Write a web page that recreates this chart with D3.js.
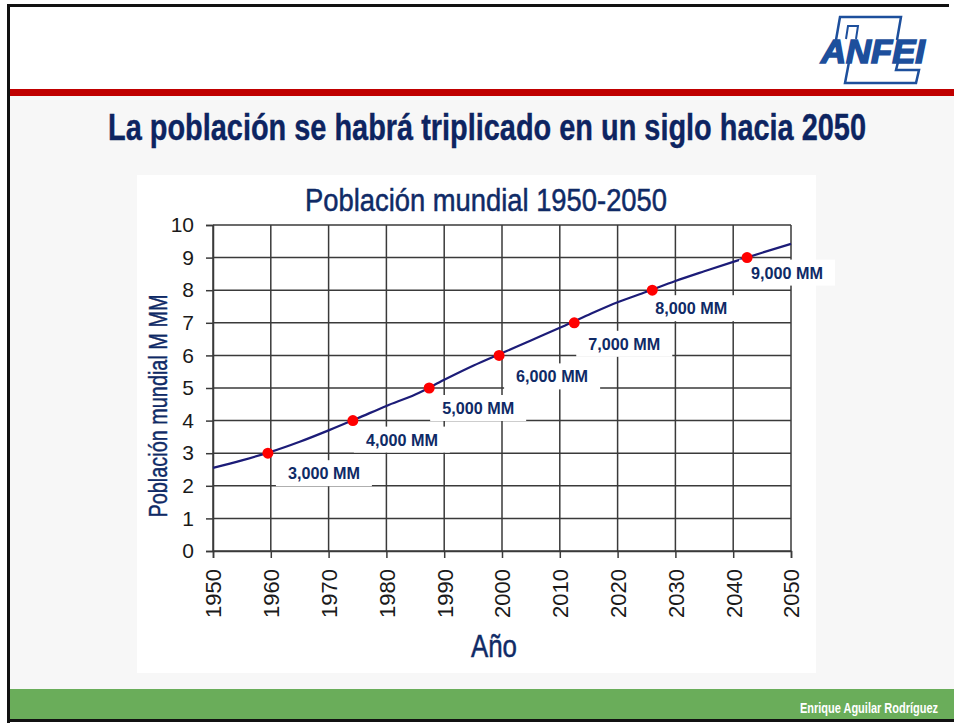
<!DOCTYPE html>
<html><head><meta charset="utf-8">
<script src="https://cdn.jsdelivr.net/npm/d3@7"></script>
<style>
html,body{margin:0;padding:0;background:#fff;}
svg{display:block;}
</style></head>
<body>
<svg id="c" width="954" height="723"></svg>
<script>
// ---- data ----
const years = [1950,1955,1960,1965,1970,1975,1980,1985,1990,1995,2000,2005,2010,2015,2020,2025,2030,2035,2040,2045,2050];
const population = [2.55,2.78,3.04,3.35,3.70,4.07,4.45,4.80,5.25,5.68,6.07,6.46,6.85,7.25,7.63,7.95,8.28,8.58,8.87,9.15,9.42];
const milestoneYears = [1959.5,1974.2,1987.4,1999.5,2012.5,2026.0,2042.4];
const milestoneValues = [3,4,5,6,7,8,9];
const milestoneLabels = ["3,000 MM","4,000 MM","5,000 MM","6,000 MM","7,000 MM","8,000 MM","9,000 MM"];
const xTicks = [1950,1960,1970,1980,1990,2000,2010,2020,2030,2040,2050];
const yTicks = [0,1,2,3,4,5,6,7,8,9,10];
const slideTitle = "La población se habrá triplicado en un siglo hacia 2050";
const chartTitle = "Población mundial 1950-2050";
const xTitle = "Año";
const yTitle = "Población mundial M MM";
const footerText = "Enrique Aguilar Rodríguez";
// label placement (layout only)
const labelDx = [20,13,13,17,14,3,4];
const labelDy = [20,19,20,21,21,18,15];

const svg = d3.select("#c");
const NAVY = "#0f2a66";
const NARROW = "'Liberation Sans Narrow','Arial Narrow','Liberation Sans',sans-serif";

// ---- slide chrome ----
svg.append("rect").attr("x",0).attr("y",0).attr("width",954).attr("height",723).attr("fill","#ffffff");
svg.append("rect").attr("x",8).attr("y",96).attr("width",946).attr("height",593).attr("fill","#f7f7f7");
svg.append("rect").attr("x",8).attr("y",89).attr("width",946).attr("height",7).attr("fill","#c00000");
svg.append("rect").attr("x",9).attr("y",689).attr("width",945).attr("height",30).attr("fill","#6aad5a");
svg.append("rect").attr("x",7).attr("y",4).attr("width",942).attr("height",3).attr("fill","#111");
svg.append("rect").attr("x",7).attr("y",4).attr("width",3).attr("height",719).attr("fill","#111");
svg.append("rect").attr("x",7).attr("y",719).attr("width",947).attr("height",3).attr("fill","#111");

svg.append("text").attr("x",938).attr("y",713).attr("text-anchor","end")
  .attr("font-family",NARROW).attr("font-weight","bold").attr("font-size",14)
  .attr("textLength",138).attr("lengthAdjust","spacingAndGlyphs")
  .attr("fill","#fff").text(footerText);

// logo
const LB = "#1d4f9c";
const logo = svg.append("g");
logo.append("path").attr("d","M836,40 L840,17 L901,17 L897,40").attr("fill","none").attr("stroke",LB).attr("stroke-width",2.5);
logo.append("path").attr("d","M846,39 L848,26 L858,26 L856,39").attr("fill","none").attr("stroke",LB).attr("stroke-width",2);
logo.append("path").attr("d","M849,62 L845,83 L916,83 L919,70 L896,70 L898,62").attr("fill","none").attr("stroke",LB).attr("stroke-width",2.5);
logo.append("text").attr("x",821).attr("y",63).attr("font-family","'Liberation Sans',Arial,sans-serif")
  .attr("font-weight","bold").attr("font-style","italic").attr("font-size",33)
  .attr("textLength",104).attr("lengthAdjust","spacingAndGlyphs")
  .attr("fill",LB).attr("stroke",LB).attr("stroke-width",1.6).text("ANFEI");

// slide title
svg.append("text").attr("x",108).attr("y",140)
  .attr("font-family",NARROW).attr("font-weight","bold").attr("font-size",36)
  .attr("textLength",758).attr("lengthAdjust","spacingAndGlyphs")
  .attr("fill","#0d2461").attr("stroke","#0d2461").attr("stroke-width",0.4).text(slideTitle);

// chart panel
svg.append("rect").attr("x",137).attr("y",175).attr("width",679).attr("height",498).attr("fill","#fff");

// ---- chart ----
const x = d3.scaleLinear().domain([1950,2050]).range([213,791]);
const y = d3.scaleLinear().domain([0,10]).range([551,225]);
const GRID = "#3a3a3a";

svg.append("text").attr("x",486).attr("y",211).attr("text-anchor","middle")
  .attr("font-family",NARROW).attr("font-size",31)
  .attr("textLength",362).attr("lengthAdjust","spacingAndGlyphs")
  .attr("fill",NAVY).attr("stroke",NAVY).attr("stroke-width",0.5).text(chartTitle);

// grid
const grid = svg.append("g");
grid.selectAll("line.h").data(yTicks).join("line").attr("class","h")
  .attr("x1",x(1950)).attr("x2",x(2050)).attr("y1",d=>y(d)).attr("y2",d=>y(d))
  .attr("stroke",GRID).attr("stroke-width",1.5);
grid.selectAll("line.v").data(xTicks).join("line").attr("class","v")
  .attr("x1",d=>x(d)).attr("x2",d=>x(d)).attr("y1",y(0)).attr("y2",y(10))
  .attr("stroke",GRID).attr("stroke-width",1.5);

// axes
const yAxis = svg.append("g").attr("transform",`translate(${x(1950)},0)`)
  .call(d3.axisLeft(y).tickValues(yTicks).tickFormat(d3.format("d")).tickSize(7).tickPadding(12));
const xAxis = svg.append("g").attr("transform",`translate(0,${y(0)})`)
  .call(d3.axisBottom(x).tickValues(xTicks).tickFormat(d3.format("d")).tickSize(7));
[yAxis,xAxis].forEach(a=>{
  a.select(".domain").attr("stroke",GRID).attr("stroke-width",1.5);
  a.selectAll(".tick line").attr("stroke",GRID).attr("stroke-width",1.5);
  a.selectAll("text").attr("font-family","'Liberation Sans',Arial,sans-serif").attr("font-size",21).attr("fill","#1a1a1a");
});
xAxis.selectAll("text").attr("font-size",22).attr("transform","rotate(-90)").attr("x",-18).attr("y",0)
  .attr("dy","0.36em").attr("text-anchor","end");

// axis titles
svg.append("text").attr("x",494).attr("y",657).attr("text-anchor","middle")
  .attr("font-family",NARROW).attr("font-size",32)
  .attr("textLength",46).attr("lengthAdjust","spacingAndGlyphs")
  .attr("fill",NAVY).attr("stroke",NAVY).attr("stroke-width",0.5).text(xTitle);
svg.append("text").attr("transform","translate(167,406) rotate(-90)").attr("text-anchor","middle")
  .attr("font-family",NARROW).attr("font-size",25)
  .attr("textLength",223).attr("lengthAdjust","spacingAndGlyphs")
  .attr("fill",NAVY).attr("stroke",NAVY).attr("stroke-width",0.4).text(yTitle);

// line
svg.append("path").datum(years.map((yr,i)=>[yr,population[i]]))
  .attr("d",d3.line().x(d=>x(d[0])).y(d=>y(d[1])).curve(d3.curveMonotoneX))
  .attr("fill","none").attr("stroke","#1c1c78").attr("stroke-width",2.2);

// milestone labels
const lab = svg.append("g").selectAll("g").data(milestoneLabels).join("g");
lab.append("rect")
  .attr("x",(d,i)=>x(milestoneYears[i])+labelDx[i]-12)
  .attr("y",(d,i)=>y(milestoneValues[i])+labelDy[i]-13)
  .attr("width",96).attr("height",26).attr("fill","#fff");
lab.append("text")
  .attr("x",(d,i)=>x(milestoneYears[i])+labelDx[i])
  .attr("y",(d,i)=>y(milestoneValues[i])+labelDy[i]+6)
  .attr("font-family","'Liberation Sans',Arial,sans-serif").attr("font-weight","bold").attr("font-size",17)
  .attr("textLength",72).attr("lengthAdjust","spacingAndGlyphs")
  .attr("fill",NAVY).text(d=>d);

// points
svg.append("g").selectAll("circle").data(milestoneValues).join("circle")
  .attr("cx",(d,i)=>x(milestoneYears[i])).attr("cy",d=>y(d)).attr("r",5.5).attr("fill","#ff0000");
</script>
</body></html>
